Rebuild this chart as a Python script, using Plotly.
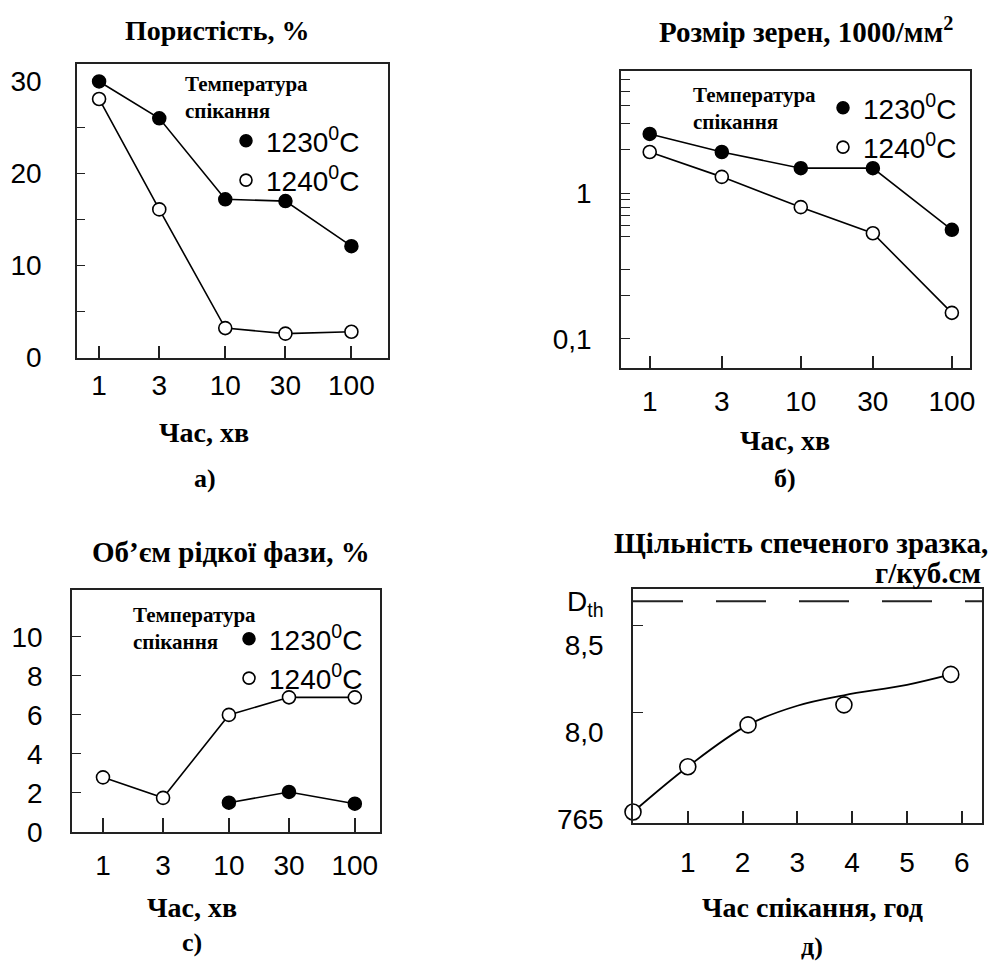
import plotly.graph_objects as go

# ---------------- data ----------------
time_min = [1, 3, 10, 30, 100]
time_labels = ["1", "3", "10", "30", "100"]

# a) porosity, %
por_1230 = [30.0, 26.0, 17.2, 17.0, 12.1]
por_1240 = [28.1, 16.1, 3.2, 2.6, 2.8]

# b) grain size, 1000/mm^2
grain_1230 = [2.54, 1.91, 1.48, 1.48, 0.56]
grain_1240 = [1.91, 1.29, 0.80, 0.53, 0.151]

# c) liquid phase volume, %
liq_time_1230 = [10, 30, 100]
liq_1230 = [1.5, 2.05, 1.45]
liq_1240 = [2.8, 1.75, 6.0, 6.9, 6.9]

# d) density of sintered sample
dens_time = [0, 1, 2.1, 3.85, 5.8]
dens = [7.54, 7.80, 8.04, 8.155, 8.33]
fit_time = [0, 1, 2.1, 3.0, 3.85, 5.0, 5.8]
fit_dens = [7.54, 7.80, 8.04, 8.15, 8.21, 8.27, 8.33]
d_th = 8.75
dens_ticks = [7.5, 8.0, 8.5, 8.75]
dens_ticktext = ["765", "8,0", "8,5", "D<sub>th</sub>"]
hours = [1, 2, 3, 4, 5, 6]

labels_1230 = "1230<sup>0</sup>C"
labels_1240 = "1240<sup>0</sup>C"

# ---------------- style ----------------
W, H = 994, 962
SERIF = "Liberation Serif, Times New Roman, serif"
SANS = "Liberation Sans, Arial, sans-serif"
LC = "black"
filled = dict(symbol="circle", size=13, color="black", line=dict(color="black", width=1.5))
hollow = dict(symbol="circle", size=13, color="white", line=dict(color="black", width=1.6))


def px(x):
    return x / W


def py(y):
    return 1 - y / H


fig = go.Figure()


def line_trace(x, y, xa, ya, marker):
    fig.add_trace(go.Scatter(x=x, y=y, mode="lines+markers", xaxis=xa, yaxis=ya,
                             line=dict(color=LC, width=1.6), marker=marker,
                             showlegend=False, hoverinfo="skip"))


def legend_traces(xa, ya, leg):
    fig.add_trace(go.Scatter(x=[None], y=[None], mode="markers", xaxis=xa, yaxis=ya,
                             marker=dict(filled, size=12), name=labels_1230, legend=leg))
    fig.add_trace(go.Scatter(x=[None], y=[None], mode="markers", xaxis=xa, yaxis=ya,
                             marker=dict(hollow, size=12), name=labels_1240, legend=leg))


# panel a
line_trace(time_min, por_1230, "x", "y", filled)
line_trace(time_min, por_1240, "x", "y", hollow)
legend_traces("x", "y", "legend")
# panel b
line_trace(time_min, grain_1230, "x2", "y2", filled)
line_trace(time_min, grain_1240, "x2", "y2", hollow)
legend_traces("x2", "y2", "legend2")
# panel c
line_trace(time_min, liq_1240, "x3", "y3", hollow)
line_trace(liq_time_1230, liq_1230, "x3", "y3", filled)
legend_traces("x3", "y3", "legend3")
# panel d
fig.add_trace(go.Scatter(x=fit_time, y=fit_dens, mode="lines", xaxis="x4", yaxis="y4",
                         line=dict(color=LC, width=1.8, shape="spline", smoothing=1.0),
                         showlegend=False, hoverinfo="skip"))
fig.add_trace(go.Scatter(x=dens_time, y=dens, mode="markers", xaxis="x4", yaxis="y4",
                         marker=dict(hollow, size=16), showlegend=False, hoverinfo="skip",
                         cliponaxis=False))

tickfont = dict(family=SANS, size=28, color="black")
frame = dict(showline=True, linecolor="#222", linewidth=1.5, mirror=True,
             showgrid=False, zeroline=False, tickfont=tickfont, automargin=False)

layout = dict(
    width=W, height=H, margin=dict(l=0, r=0, t=0, b=0, pad=0, autoexpand=False),
    paper_bgcolor="white", plot_bgcolor="white",
    # a
    xaxis=dict(frame, domain=[px(77), px(388)], anchor="y", type="log",
               range=[-0.175, 2.29], tickvals=time_min, ticktext=time_labels,
               ticks="inside", ticklen=12, tickwidth=1.5, tickcolor="#222",
               ticklabelstandoff=2),
    yaxis=dict(frame, domain=[py(358), py(64)], anchor="x", range=[-0.05, 31.9],
               tickvals=[0, 10, 20, 30], ticks="", ticklabelstandoff=28,
               minor=dict(tickmode="array", tickvals=[5, 10, 15, 20, 25], ticks="inside",
                          ticklen=8, tickwidth=1.3, tickcolor="#222")),
    # b
    xaxis2=dict(frame, domain=[px(621), px(970)], anchor="y2", type="log",
                range=[-0.19, 2.12], tickvals=time_min, ticktext=time_labels,
                ticks="inside", ticklen=12, tickwidth=1.5, tickcolor="#222",
                ticklabelstandoff=8),
    yaxis2=dict(frame, domain=[py(368), py(71)], anchor="x2", type="log",
                range=[-1.199, 0.836], tickvals=[0.1, 1], ticktext=["0,1", "1"],
                ticks="", ticklabelstandoff=22,
                minor=dict(tickmode="array",
                           tickvals=[0.1, 0.2, 0.3, 0.5, 0.6, 0.7, 0.8, 0.9, 1, 2, 3, 4, 5, 6],
                           ticks="inside", ticklen=9, tickwidth=1.3, tickcolor="#222")),
    # c
    xaxis3=dict(frame, domain=[px(72), px(380)], anchor="y3", type="log",
                range=[-0.246, 2.2], tickvals=time_min, ticktext=time_labels,
                ticks="inside", ticklen=14, tickwidth=1.5, tickcolor="#222",
                ticklabelstandoff=8),
    yaxis3=dict(frame, domain=[py(832), py(590)], anchor="x3", range=[0, 12.4],
                tickvals=[0, 2, 4, 6, 8, 10], ticks="", ticklabelstandoff=22,
                minor=dict(tickmode="array", tickvals=[2, 4, 6, 8, 10], ticks="inside",
                           ticklen=9, tickwidth=1.3, tickcolor="#222")),
    # d
    xaxis4=dict(frame, domain=[px(633), px(982)], anchor="y4", range=[0, 6.37],
                tickvals=hours, ticks="inside", ticklen=12, tickwidth=1.5,
                tickcolor="#222", ticklabelstandoff=14),
    yaxis4=dict(frame, domain=[py(823), py(589)], anchor="x4", range=[7.477, 8.82],
                tickvals=dens_ticks, ticktext=dens_ticktext, ticks="",
                ticklabelstandoff=22,
                minor=dict(tickmode="array", tickvals=[8.11, 8.61], ticks="inside",
                           ticklen=10, tickwidth=1.3, tickcolor="#222")),
)

leg_common = dict(bgcolor="rgba(0,0,0,0)", font=dict(family=SANS, size=28, color="black"),
                  xanchor="left", yanchor="top", tracegroupgap=0, itemclick=False)
layout["legend"] = dict(leg_common, x=px(226), y=py(116))
layout["legend2"] = dict(leg_common, x=px(823), y=py(83))
layout["legend3"] = dict(leg_common, x=px(229), y=py(614))
fig.update_layout(**layout)

# dashed theoretical density line
fig.add_shape(type="line", xref="x4 domain", yref="y4", x0=0, x1=1, y0=d_th, y1=d_th,
              line=dict(color="#222", width=2, dash="50px,33px"))


def text(x, y, s, size=28, xanchor="center", align="center", yanchor="middle"):
    fig.add_annotation(x=px(x), y=py(y), xref="paper", yref="paper", text=s,
                       showarrow=False, xanchor=xanchor, yanchor=yanchor, align=align,
                       font=dict(family=SERIF, size=size, color="black"))


# titles
text(217, 30, "<b>Пористість, %</b>", 28)
text(806, 30, "<b>Розмір зерен, 1000/мм<sup>2</sup></b>", 29)
text(231, 552, "<b>Об’єм рідкої фази, %</b>", 29)
text(990, 543, "<b>Щільність спеченого зразка,</b>", 29, xanchor="right")
text(983, 573, "<b>г/куб.см</b>", 29, xanchor="right")
# axis titles
text(204, 432, "<b>Час, хв</b>", 28)
text(785, 440, "<b>Час, хв</b>", 28)
text(192, 907, "<b>Час, хв</b>", 28)
text(812, 907, "<b>Час спікання, год</b>", 28)
# panel letters
text(205, 478, "<b>а)</b>", 26)
text(785, 478, "<b>б)</b>", 26)
text(192, 942, "<b>с)</b>", 26)
text(812, 946, "<b>д)</b>", 26)
# legend titles
for lx, ly in [(183, 70), (691, 81), (131, 601)]:
    text(lx, ly, "<b>Температура<br>спікання</b>", 21, xanchor="left", align="left",
         yanchor="top")

fig.write_html("out.html")
